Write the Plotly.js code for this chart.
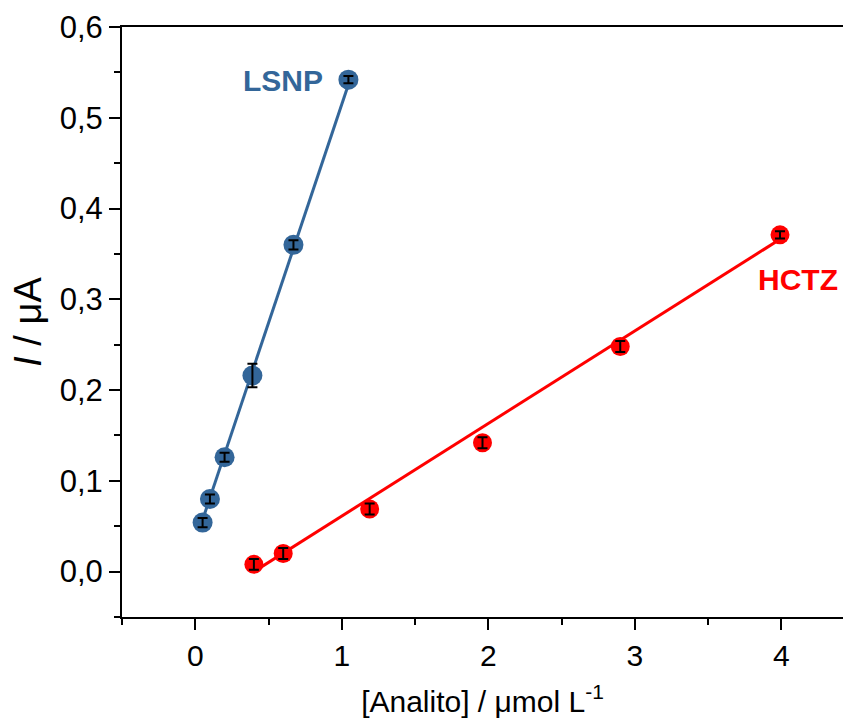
<!DOCTYPE html>
<html>
<head>
<meta charset="utf-8">
<script src="https://cdn.plot.ly/plotly-3.0.1.min.js"></script>
<style>html,body{margin:0;padding:0;background:#fff;}#chart{width:843px;height:724px;}</style>
</head>
<body>
<div id="chart"></div>
<script>
// LSNP data
const lsnpX = [0.05, 0.10, 0.20, 0.39, 0.67, 1.045];
const lsnpY = [0.054, 0.080, 0.126, 0.216, 0.360, 0.542];
const lsnpErr = [0.005, 0.005, 0.005, 0.013, 0.005, 0.004];
const lsnpFit = { slope: 0.482, intercept: 0.033 };
// HCTZ data
const hctzX = [0.40, 0.60, 1.19, 1.96, 2.90, 3.99];
const hctzY = [0.008, 0.020, 0.069, 0.142, 0.248, 0.371];
const hctzErr = [0.006, 0.006, 0.006, 0.006, 0.006, 0.004];
const hctzFit = { slope: 0.102, intercept: -0.0408 };
const yTickVals = [0, 0.1, 0.2, 0.3, 0.4, 0.5, 0.6];
const xTickVals = [0, 1, 2, 3, 4];

function fitLine(xs, f) {
  const x0 = Math.min(...xs), x1 = Math.max(...xs);
  return { x: [x0, x1], y: [f.intercept + f.slope * x0, f.intercept + f.slope * x1] };
}

const blue = 'rgb(51,102,153)';
const red = 'rgb(255,0,0)';
const fl = fitLine(lsnpX, lsnpFit);
const fh = fitLine(hctzX, hctzFit);

const traces = [
  { x: fl.x, y: fl.y, mode: 'lines', line: { color: blue, width: 3 }, hoverinfo: 'skip' },
  { x: fh.x, y: fh.y, mode: 'lines', line: { color: red, width: 3 }, hoverinfo: 'skip' },
  { x: lsnpX, y: lsnpY, mode: 'markers', marker: { color: blue, size: 20 } },
  { x: hctzX, y: hctzY, mode: 'markers', marker: { color: red, size: 19 } },
  { x: lsnpX, y: lsnpY, mode: 'markers', marker: { opacity: 0, size: 1 },
    error_y: { type: 'data', array: lsnpErr, visible: true, color: 'black', thickness: 2, width: 5 } },
  { x: hctzX, y: hctzY, mode: 'markers', marker: { opacity: 0, size: 1 },
    error_y: { type: 'data', array: hctzErr, visible: true, color: 'black', thickness: 2, width: 5 } }
];

const fontFam = 'Liberation Sans, Arial, sans-serif';
const layout = {
  width: 843, height: 724,
  showlegend: false,
  separators: ',.',
  paper_bgcolor: '#fff', plot_bgcolor: '#fff',
  margin: { l: 122, r: 0, t: 27, b: 107 },
  font: { family: fontFam, color: '#000' },
  xaxis: {
    range: [-0.5, 4.42], tickvals: xTickVals, ticktext: xTickVals.map(String),
    showgrid: false, zeroline: false, showline: true, linecolor: '#000', linewidth: 2,
    mirror: true, ticks: 'outside', ticklen: 11, tickwidth: 2, tickcolor: '#000',
    minor: { dtick: 0.5, tick0: -0.5, ticks: 'outside', ticklen: 6, tickwidth: 2, tickcolor: '#000', showgrid: false },
    tickfont: { size: 30, family: fontFam },
    title: { text: '[Analito] / μmol L<sup>-1</sup>', font: { size: 30, family: fontFam }, standoff: 20 }
  },
  yaxis: {
    range: [-0.05, 0.6], tickvals: yTickVals, tickformat: '.1f',
    showgrid: false, zeroline: false, showline: true, linecolor: '#000', linewidth: 2,
    mirror: true, ticks: 'outside', ticklen: 11, tickwidth: 2, tickcolor: '#000',
    minor: { dtick: 0.05, tick0: 0, ticks: 'outside', ticklen: 6, tickwidth: 2, tickcolor: '#000', showgrid: false },
    tickfont: { size: 31, family: fontFam },
    title: { text: '<i>I</i> / μA', font: { size: 38, family: fontFam }, standoff: 6 }
  },
  annotations: [
    { x: 0.60, y: 0.541, xref: 'x', yref: 'y', text: '<b>LSNP</b>', showarrow: false,
      font: { size: 30, color: blue, family: fontFam } },
    { x: 4.11, y: 0.322, xref: 'x', yref: 'y', text: '<b>HCTZ</b>', showarrow: false,
      font: { size: 30, color: red, family: fontFam } }
  ]
};

Plotly.newPlot('chart', traces, layout, { displayModeBar: false, staticPlot: true });
</script>
</body>
</html>
